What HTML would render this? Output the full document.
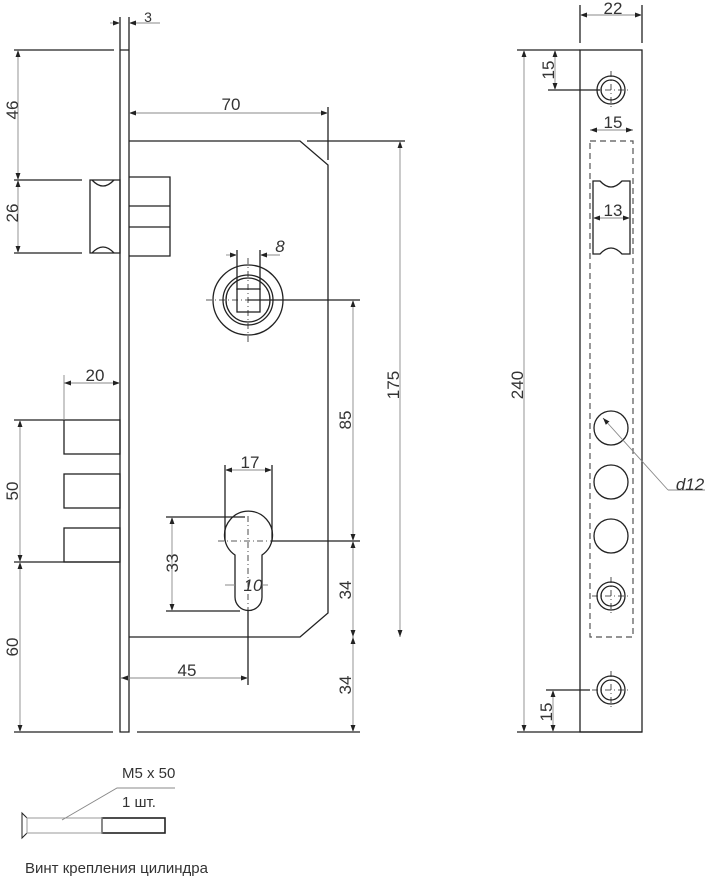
<!DOCTYPE html>
<html><head><meta charset="utf-8"><style>body{margin:0;background:#fff}svg{display:block}</style></head><body>
<svg width="710" height="884" viewBox="0 0 710 884" xmlns="http://www.w3.org/2000/svg" font-family="Liberation Sans, sans-serif" font-size="16" fill="none">
<defs><marker id="a" viewBox="0 0 10 10" refX="10" refY="5" markerWidth="7" markerHeight="7" markerUnits="userSpaceOnUse" orient="auto-start-reverse"><path d="M0,1.5L10,5L0,8.5z" fill="#222"/></marker></defs>
<g stroke="#222" stroke-width="1.3">
<path d="M120,17V732H129V17M120,50H129"/>
<path d="M90,180H120V253H90Z"/>
<path d="M92,180Q103,192 114,180M92,253Q103,241 114,253"/>
<path d="M129,177H170V256H129M129,206H170M129,227H170M170,206V227"/>
<path d="M129,141H300L328,165V613L300,637H129"/>
<circle cx="248" cy="300" r="35"/><circle cx="248" cy="300" r="25"/><circle cx="248" cy="300" r="22"/>
<rect x="237" y="289" width="23" height="23"/>
<path d="M248,300H360"/>
<path d="M262,555A24,24 0 1 0 235,555V597A13.5,13.5 0 0 0 262,597Z"/>
<path d="M272,541H360M248,611V685"/>
<rect x="64" y="420" width="56" height="34"/><rect x="64" y="474" width="56" height="34"/><rect x="64" y="528" width="56" height="34"/>
<path d="M14,420H64M14,562H120M14,50H114M14,180H82M14,253H82M14,732H113M137,732H360M307,141H405M328,107V160"/>
<path d="M166,517H245M166,611H240M225,465V541M272,465V541M237,250V290M260,250V290"/>
<rect x="580" y="50" width="62" height="682"/>
<path d="M580,5V43M642,5V43M517,50H580M517,732H642M548,90H600M546,690H590"/>
<circle cx="611" cy="90" r="14"/><circle cx="611" cy="90" r="10"/>
<circle cx="611" cy="596" r="14"/><circle cx="611" cy="596" r="10"/>
<circle cx="611" cy="690" r="14"/><circle cx="611" cy="690" r="10"/>
<circle cx="611" cy="428" r="17"/><circle cx="611" cy="482" r="17"/><circle cx="611" cy="536" r="17"/>
<path d="M593,181V254H600Q611,242 622,254H630V181H622Q611,193 600,181Z"/>
<path d="M22,813L27,818V833L22,838Z" stroke-width="1"/>
<rect x="102" y="818" width="63" height="15" stroke-width="1.6"/>
</g>
<g stroke="#222" stroke-width="0.8" stroke-dasharray="6,3,1,3">
<path d="M248,258V342M206,300H290M248,516V611M218,541H272M592,90H630M611,71V109M592,596H630M611,577V615M592,690H630M611,671V709"/>
</g>
<rect x="590" y="141" width="43" height="496" stroke="#555" stroke-width="1.2" stroke-dasharray="6,4"/>
<rect x="27" y="818" width="75" height="15" stroke="#999" stroke-width="1"/>
<g stroke="#888" stroke-width="0.9" marker-start="url(#a)" marker-end="url(#a)">
<line x1="18" y1="50" x2="18" y2="180"/><line x1="18" y1="180" x2="18" y2="253"/>
<line x1="20" y1="420" x2="20" y2="562"/><line x1="20" y1="562" x2="20" y2="732"/>
<line x1="129" y1="113" x2="328" y2="113"/><line x1="400" y1="141" x2="400" y2="637"/>
<line x1="353" y1="300" x2="353" y2="541"/><line x1="353" y1="541" x2="353" y2="637"/><line x1="353" y1="637" x2="353" y2="732"/>
<line x1="121" y1="678" x2="248" y2="678"/><line x1="64" y1="383" x2="120" y2="383"/>
<line x1="225" y1="470" x2="272" y2="470"/><line x1="172" y1="517" x2="172" y2="611"/>
<line x1="580" y1="15" x2="642" y2="15"/><line x1="524" y1="50" x2="524" y2="732"/>
<line x1="555" y1="50" x2="555" y2="90"/><line x1="553" y1="690" x2="553" y2="732"/>
<line x1="590" y1="130" x2="633" y2="130"/><line x1="593" y1="218" x2="630" y2="218"/>
</g>
<g stroke="#888" stroke-width="0.9">
<path d="M129,23H160M260,255H280M64,375V420M225,585H235M262,585H268"/>
<line x1="110" y1="23" x2="120" y2="23" marker-end="url(#a)"/>
<line x1="139" y1="23" x2="129" y2="23" marker-end="url(#a)"/>
<line x1="226" y1="255" x2="237" y2="255" marker-end="url(#a)"/>
<line x1="271" y1="255" x2="260" y2="255" marker-end="url(#a)"/>
<line x1="668" y1="490" x2="603" y2="418" marker-end="url(#a)"/><path d="M668,490H705"/>
<path d="M62,820L117,788H175"/>
</g>
<g fill="#333" stroke="none" font-size="17">
<text x="148" y="22" font-size="14" text-anchor="middle">3</text>
<text x="231" y="110" text-anchor="middle">70</text>
<text x="95" y="381" text-anchor="middle">20</text>
<text x="250" y="468" text-anchor="middle">17</text>
<text x="187" y="676" text-anchor="middle">45</text>
<text x="280" y="252" text-anchor="middle" font-style="italic">8</text>
<text x="253" y="591" text-anchor="middle" font-style="italic">10</text>
<text x="613" y="14" text-anchor="middle">22</text>
<text x="613" y="128" text-anchor="middle">15</text>
<text x="613" y="216" text-anchor="middle">13</text>
<text x="690" y="490" text-anchor="middle" font-style="italic">d12</text>
<text transform="translate(18,110) rotate(-90)" text-anchor="middle">46</text>
<text transform="translate(18,213) rotate(-90)" text-anchor="middle">26</text>
<text transform="translate(18,491) rotate(-90)" text-anchor="middle">50</text>
<text transform="translate(18,647) rotate(-90)" text-anchor="middle">60</text>
<text transform="translate(399,385) rotate(-90)" text-anchor="middle">175</text>
<text transform="translate(351,420) rotate(-90)" text-anchor="middle">85</text>
<text transform="translate(351,590) rotate(-90)" text-anchor="middle">34</text>
<text transform="translate(351,685) rotate(-90)" text-anchor="middle">34</text>
<text transform="translate(178,563) rotate(-90)" text-anchor="middle">33</text>
<text transform="translate(523,385) rotate(-90)" text-anchor="middle">240</text>
<text transform="translate(554,70) rotate(-90)" text-anchor="middle">15</text>
<text transform="translate(552,712) rotate(-90)" text-anchor="middle">15</text>
<text x="122" y="778" font-size="15">M5 x 50</text>
<text x="122" y="807" font-size="15">1 шт.</text>
<text x="25" y="873" font-size="15">Винт крепления цилиндра</text>
</g>
</svg>
</body></html>
